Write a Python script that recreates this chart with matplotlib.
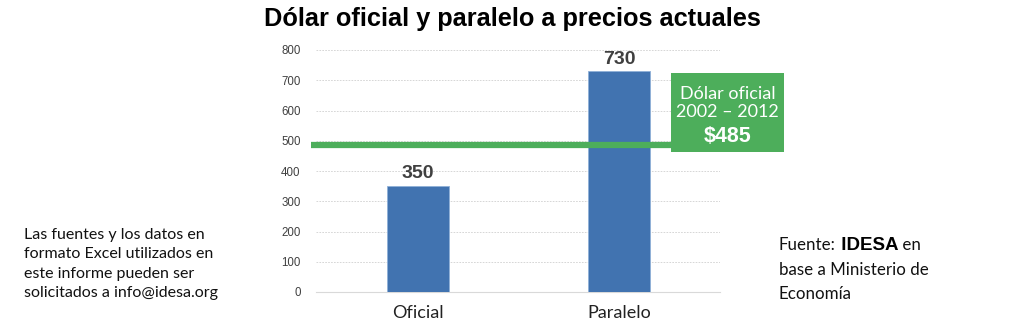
import matplotlib.pyplot as plt
from matplotlib.patches import Rectangle

categories = ["Oficial", "Paralelo"]
values = [350, 730]
promedio_label = "Dólar oficial\n2002 – 2012"
promedio_value = 485
y_ticks = [0, 100, 200, 300, 400, 500, 600, 700, 800]

BLUE = "#4173B0"
GREEN = "#4DAE5B"

fig = plt.figure(figsize=(10.24, 3.35), dpi=100)
W, H = 1024, 335
ax = fig.add_axes([316 / W, 1 - 292 / H, (720 - 316) / W, (292 - 50) / H])

ax.bar(range(len(categories)), values, width=0.31, color=BLUE,
       edgecolor="#8FB0D8", linewidth=0.6, zorder=3)
for i, v in enumerate(values):
    ax.text(i, v + 12, f"{v}", ha="center", va="bottom", fontsize=14,
            fontweight="bold", color="#404040", family="Liberation Sans")

ax.set_xlim(-0.505, 1.5)
ax.set_ylim(0, 800)
ax.set_yticks(y_ticks)
ax.set_yticklabels([str(t) for t in y_ticks], fontsize=8.3, color="#404040",
                   family="Liberation Sans")
ax.set_xticks(range(len(categories)))
ax.set_xticklabels(categories, fontsize=13, color="#222222", family="Lato")
ax.tick_params(axis="both", length=0)
ax.tick_params(axis="y", pad=11)
ax.tick_params(axis="x", pad=9)
ax.grid(axis="y", linestyle=(0, (2, 1.5)), color="#D0D0D0", linewidth=0.6, zorder=0)
for s in ["top", "right", "left"]:
    ax.spines[s].set_visible(False)
ax.spines["bottom"].set_color("#D9D9D9")
ax.spines["bottom"].set_linewidth(0.8)

# Average official rate line and its label box
ax.plot([-0.53, 1.26], [promedio_value, promedio_value], color=GREEN,
        linewidth=4.5, solid_capstyle="butt", zorder=4, clip_on=False)
box_x0, box_y0 = 671 / W, 1 - 152 / H
box_w, box_h = (784 - 671) / W, (152 - 73) / H
fig.patches.append(Rectangle((box_x0, box_y0), box_w, box_h, transform=fig.transFigure,
                             facecolor=GREEN, edgecolor="none", zorder=5))
fig.text(box_x0 + box_w / 2, 1 - 103 / H, promedio_label, ha="center", va="center",
         fontsize=13, color="white", family="Lato", linespacing=1.15, zorder=6)
fig.text(box_x0 + box_w / 2, 1 - 137 / H, f"${promedio_value}", ha="center", va="center",
         fontsize=15.5, color="white", fontweight="bold", family="Liberation Sans", zorder=6)

fig.text(512 / W, 1 - 19 / H, "Dólar oficial y paralelo a precios actuales",
         ha="center", va="center", fontsize=18.3, fontweight="bold",
         family="Liberation Sans", color="black")

fig.text(24 / W, 1 - 264 / H,
         "Las fuentes y los datos en\nformato Excel utilizados en\neste informe pueden ser\nsolicitados a info@idesa.org",
         ha="left", va="center", fontsize=11.5, family="Lato", color="#111111",
         linespacing=1.5)

# Source line built from consecutive runs of text
renderer = fig.canvas.get_renderer()
x = 779 / W
y = 1 - 245 / H
for txt, kw in [("Fuente:", dict(fontsize=12.2, family="Lato", color="#111111")),
                (" IDESA", dict(fontsize=13.5, family="Liberation Sans",
                                fontweight="bold", color="black")),
                (" en", dict(fontsize=12.2, family="Lato", color="#111111"))]:
    t = fig.text(x, y, txt, ha="left", va="center", **kw)
    bb = t.get_window_extent(renderer=renderer)
    x = bb.x1 / (W)
fig.text(779 / W, 1 - 282 / H, "base a Ministerio de\nEconomía", ha="left", va="center",
         fontsize=12.2, family="Lato", color="#111111", linespacing=1.55)

fig.savefig("out.png", dpi=100, facecolor="white")
